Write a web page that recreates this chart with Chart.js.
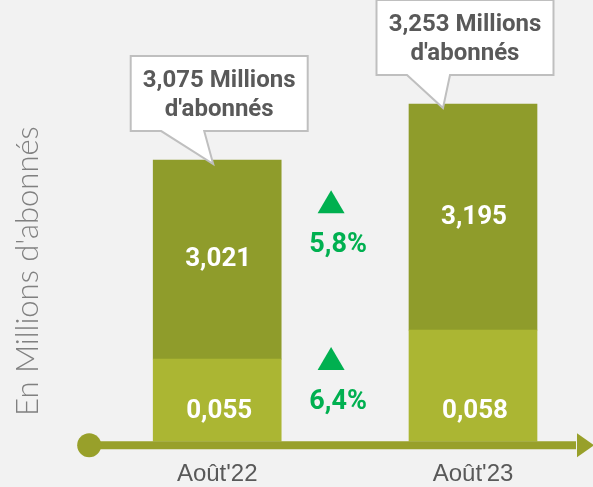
<!DOCTYPE html>
<html>
<head>
<meta charset="utf-8">
<script src="https://cdn.jsdelivr.net/npm/chart.js@4"></script>
<style>
  html, body { margin: 0; padding: 0; background: #f2f2f2; overflow: hidden; }
  #wrap { width: 593px; height: 487px; }
</style>
</head>
<body>
<div id="wrap"><canvas id="chart" width="593" height="487"></canvas></div>
<script>
// Values as printed on the chart (millions of subscribers)
const categories = ["Août'22", "Août'23"]
const lowerValues = [0.055, 0.058]
const upperValues = [3.021, 3.195]
const totalValues = [3.075, 3.253]
const lowerGrowth = 6.4
const upperGrowth = 5.8

// The source is an infographic, not to scale: segment lengths as drawn there
const lowerDrawn = [0.82, 1.11]
const upperDrawn = [1.99, 2.26]

const DARK = '#8f9c2b'
const LIGHT = '#abb633'
const AXIS = '#98a02a'
const GREEN = '#00b050'
const GREY = '#595959'

const fr = (v, d) => v.toFixed(d).replace('.', ',')

function drawCallout(ctx, bar, shift, tipDx, lines) {
  const w = 177, h = 75
  const cx = bar.x + shift
  const bottom = bar.y - 29
  const top = bottom - h
  const left = cx - w / 2, right = cx + w / 2

  ctx.save()
  ctx.beginPath()
  ctx.moveTo(left, top)
  ctx.lineTo(right, top)
  ctx.lineTo(right, bottom)
  ctx.lineTo(cx - 15, bottom)
  ctx.lineTo(cx + tipDx, bar.y + 4)
  ctx.lineTo(cx - 58, bottom)
  ctx.lineTo(left, bottom)
  ctx.closePath()
  ctx.fillStyle = '#ffffff'
  ctx.fill()
  ctx.lineWidth = 2
  ctx.strokeStyle = '#bfbfbf'
  ctx.stroke()

  ctx.fillStyle = GREY
  ctx.font = 'bold 24px Roboto'
  ctx.textAlign = 'center'
  ctx.textBaseline = 'middle'
  const mid = (top + bottom) / 2
  ctx.fillText(lines[0], cx, mid - 13)
  ctx.fillText(lines[1], cx, mid + 16)
  ctx.restore()
}

function drawGrowth(ctx, x, y, text) {
  ctx.save()
  ctx.fillStyle = GREEN
  ctx.beginPath()
  ctx.moveTo(x - 7, y - 55)
  ctx.lineTo(x + 6.5, y - 55 + 23)
  ctx.lineTo(x - 20.5, y - 55 + 23)
  ctx.closePath()
  ctx.fill()
  ctx.font = 'bold 27px Roboto'
  ctx.textAlign = 'center'
  ctx.textBaseline = 'middle'
  ctx.fillText(text, x, y)
  ctx.restore()
}

const decorations = {
  id: 'decorations',
  afterDatasetsDraw(chart) {
    const ctx = chart.ctx
    const area = chart.chartArea
    const lower = chart.getDatasetMeta(0).data
    const upper = chart.getDatasetMeta(1).data
    const axisY = area.bottom + 4

    // timeline axis: dot, line, arrow head
    ctx.save()
    ctx.strokeStyle = AXIS
    ctx.fillStyle = AXIS
    ctx.lineWidth = 8
    ctx.beginPath()
    ctx.moveTo(lower[0].x - 128, axisY)
    ctx.lineTo(chart.width - 17, axisY)
    ctx.stroke()
    ctx.beginPath()
    ctx.arc(lower[0].x - 128, axisY, 12, 0, Math.PI * 2)
    ctx.fill()
    ctx.beginPath()
    ctx.moveTo(chart.width - 16, axisY - 12)
    ctx.lineTo(chart.width + 1, axisY)
    ctx.lineTo(chart.width - 16, axisY + 12)
    ctx.closePath()
    ctx.fill()
    ctx.restore()

    // values inside the segments
    ctx.save()
    ctx.fillStyle = '#ffffff'
    ctx.font = 'bold 26px Roboto'
    ctx.textAlign = 'center'
    ctx.textBaseline = 'middle'
    upper.forEach((bar, i) => {
      ctx.fillText(fr(upperValues[i], 3), bar.x + 1, (bar.y + bar.base) / 2)
    })
    lower.forEach((bar, i) => {
      ctx.fillText(fr(lowerValues[i], 3), bar.x + 2, bar.base - 30)
    })
    ctx.restore()

    // growth between the two bars
    const midX = (upper[0].x + upper[1].x) / 2 - 7
    const upperMid = upper.reduce((s, b) => s + (b.y + b.base) / 2, 0) / upper.length
    const lowerMid = lower.reduce((s, b) => s + (b.y + b.base) / 2, 0) / lower.length
    drawGrowth(ctx, midX, upperMid + 7, fr(upperGrowth, 1) + '%')
    drawGrowth(ctx, midX, lowerMid + 9, fr(lowerGrowth, 1) + '%')

    // totals in callouts
    const shifts = [2, -8]
    const tips = [-6, -22]
    upper.forEach((bar, i) => {
      drawCallout(ctx, bar, shifts[i], tips[i], [fr(totalValues[i], 3) + ' Millions', "d'abonnés"])
    })
  }
}

new Chart(document.getElementById('chart'), {
  type: 'bar',
  data: {
    labels: categories,
    datasets: [
      { label: 'lower', data: lowerDrawn, backgroundColor: LIGHT, clip: false },
      { label: 'upper', data: upperDrawn, backgroundColor: DARK, clip: false }
    ]
  },
  options: {
    responsive: false,
    animation: false,
    devicePixelRatio: 1,
    barThickness: 128,
    layout: { padding: { top: 101, right: 120, bottom: -21, left: 0 } },
    plugins: {
      legend: { display: false },
      tooltip: { enabled: false }
    },
    scales: {
      x: {
        stacked: true,
        offset: false,
        grid: { display: false, drawTicks: false },
        border: { display: false },
        ticks: { color: GREY, font: { family: 'Liberation Sans', size: 24 }, padding: 19 }
      },
      y: {
        stacked: true,
        min: 0,
        max: 3.4,
        grid: { display: false, drawTicks: false },
        border: { display: false },
        ticks: { display: false },
        title: {
          display: true,
          text: "En Millions d'abonnés",
          color: '#808080',
          font: { family: 'Lato', size: 31, weight: 300 },
          padding: { top: 9, bottom: 171 }
        }
      }
    }
  },
  plugins: [decorations]
})
</script>
</body>
</html>
